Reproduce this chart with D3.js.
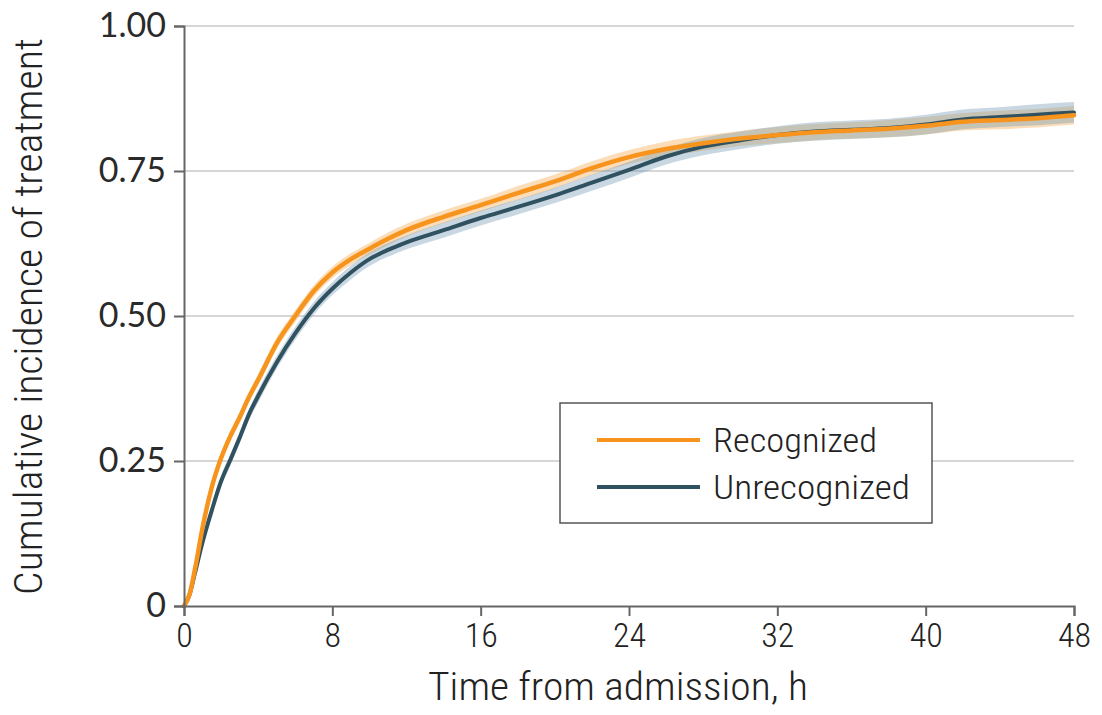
<!DOCTYPE html>
<html>
<head>
<meta charset="utf-8">
<script src="https://cdn.jsdelivr.net/npm/d3@7"></script>
<style>
  html, body { margin: 0; padding: 0; background: #fff; }
  svg { display: block; }
</style>
</head>
<body>
<svg id="chart" width="1102" height="715"></svg>
<script>
// ---- data ----
const times = [0, 0.3, 0.6, 1, 1.5, 2, 2.5, 3, 3.5, 4, 5, 6, 7, 8, 9, 10, 11, 12, 14, 16, 18, 20, 22, 24, 26, 28, 30, 32, 34, 36, 38, 40, 42, 44, 46, 48];
const recognized = [0, 0.02, 0.065, 0.135, 0.205, 0.255, 0.293, 0.325, 0.36, 0.39, 0.453, 0.50, 0.543, 0.575, 0.598, 0.616, 0.633, 0.648, 0.671, 0.691, 0.712, 0.732, 0.755, 0.774, 0.788, 0.798, 0.806, 0.812, 0.817, 0.820, 0.823, 0.828, 0.835, 0.838, 0.841, 0.846];
const unrecognized = [0, 0.02, 0.058, 0.11, 0.165, 0.215, 0.252, 0.29, 0.33, 0.362, 0.42, 0.47, 0.513, 0.547, 0.575, 0.598, 0.614, 0.627, 0.648, 0.669, 0.688, 0.708, 0.730, 0.752, 0.775, 0.792, 0.803, 0.812, 0.818, 0.821, 0.824, 0.830, 0.839, 0.843, 0.847, 0.851];
// half-width of the 95% CI bands
const recognizedCI = [0, 0.004, 0.006, 0.008, 0.009, 0.009, 0.009, 0.009, 0.009, 0.01, 0.01, 0.01, 0.01, 0.01, 0.01, 0.01, 0.011, 0.011, 0.011, 0.011, 0.012, 0.012, 0.012, 0.012, 0.013, 0.013, 0.013, 0.014, 0.014, 0.014, 0.015, 0.015, 0.015, 0.016, 0.016, 0.016];
const unrecognizedCI = [0, 0.004, 0.006, 0.009, 0.01, 0.01, 0.01, 0.01, 0.01, 0.011, 0.011, 0.011, 0.011, 0.011, 0.012, 0.012, 0.012, 0.012, 0.013, 0.013, 0.013, 0.013, 0.014, 0.014, 0.014, 0.015, 0.015, 0.015, 0.016, 0.016, 0.016, 0.017, 0.017, 0.017, 0.018, 0.018];
const xTicks = [0, 8, 16, 24, 32, 40, 48];
const yTicks = [0, 0.25, 0.5, 0.75, 1.0];
const yTickLabels = ["0", "0.25", "0.50", "0.75", "1.00"];
const seriesNames = ["Recognized", "Unrecognized"];
const seriesColors = ["#f7941d", "#2f5160"];
const bandColors = ["rgba(245,165,70,0.38)", "rgba(110,150,178,0.38)"];

// ---- layout ----
const svg = d3.select("#chart");
const mLeft = 184, mRight = 1074, mTop = 26, mBottom = 606;
const x = d3.scaleLinear().domain([0, 48]).range([mLeft, mRight]);
const y = d3.scaleLinear().domain([0, 1]).range([mBottom, mTop]);
const narrow = "'Roboto Condensed', 'Liberation Sans Narrow', 'DejaVu Sans Condensed', sans-serif";

// gridlines
svg.append("g").selectAll("line").data(yTicks.filter(d => d > 0)).join("line")
  .attr("x1", mLeft).attr("x2", mRight)
  .attr("y1", d => y(d)).attr("y2", d => y(d))
  .attr("stroke", "#c9c9c9").attr("stroke-width", 1.5);

// series
const series = [
  { name: seriesNames[0], values: recognized, ci: recognizedCI, color: seriesColors[0], band: bandColors[0] },
  { name: seriesNames[1], values: unrecognized, ci: unrecognizedCI, color: seriesColors[1], band: bandColors[1] }
];
series.forEach(s => {
  s.points = times.map((t, i) => ({ t, v: s.values[i], lo: s.values[i] - s.ci[i], hi: s.values[i] + s.ci[i] }));
});

const area = d3.area().x(d => x(d.t)).y0(d => y(d.lo)).y1(d => y(d.hi)).curve(d3.curveMonotoneX);
const line = d3.line().x(d => x(d.t)).y(d => y(d.v)).curve(d3.curveMonotoneX);

const gBands = svg.append("g");
series.forEach(s => {
  gBands.append("path").attr("d", area(s.points)).attr("fill", s.band);
});
const gLines = svg.append("g");
[series[1], series[0]].forEach(s => {
  gLines.append("path").attr("d", line(s.points))
    .attr("fill", "none").attr("stroke", s.color)
    .attr("stroke-width", s === series[0] ? 4.5 : 4)
    .attr("stroke-linejoin", "round").attr("stroke-linecap", "round");
});

// axes
const axisColor = "#666";
const yAxis = d3.axisLeft(y).tickValues(yTicks).tickFormat((d, i) => yTickLabels[i]).tickSize(10).tickPadding(8);
const gy = svg.append("g").attr("transform", `translate(${mLeft},0)`).call(yAxis);
gy.select(".domain").attr("stroke", axisColor).attr("stroke-width", 2);
gy.selectAll(".tick line").attr("stroke", axisColor).attr("stroke-width", 2);
gy.selectAll(".tick text").attr("font-family", "Lato, 'DejaVu Sans', sans-serif")
  .attr("font-size", 34).attr("fill", "#2a2a2a");

const xAxis = d3.axisBottom(x).tickValues(xTicks).tickSize(10).tickPadding(8);
const gx = svg.append("g").attr("transform", `translate(0,${mBottom})`).call(xAxis);
gx.select(".domain").attr("stroke", axisColor).attr("stroke-width", 2);
gx.selectAll(".tick line").attr("stroke", axisColor).attr("stroke-width", 2);
gx.selectAll(".tick text").attr("font-family", narrow).attr("font-weight", 300)
  .attr("font-size", 34).attr("fill", "#222").attr("dy", "0.68em");

// axis titles
svg.append("text").attr("x", 428).attr("y", 700)
  .attr("font-family", narrow).attr("font-weight", 300).attr("font-size", 38).attr("fill", "#222")
  .attr("textLength", 380).attr("lengthAdjust", "spacingAndGlyphs")
  .text("Time from admission, h");
svg.append("text").attr("transform", `translate(42,595) rotate(-90)`)
  .attr("font-family", narrow).attr("font-weight", 300).attr("font-size", 38).attr("fill", "#222")
  .attr("textLength", 557).attr("lengthAdjust", "spacingAndGlyphs")
  .text("Cumulative incidence of treatment");

// legend
const lg = svg.append("g");
lg.append("rect").attr("x", 560).attr("y", 403).attr("width", 372).attr("height", 120)
  .attr("fill", "#fff").attr("stroke", "#555").attr("stroke-width", 1.5);
const legendWidths = [164, 197];
series.forEach((s, i) => {
  const ly = 440 + i * 47;
  lg.append("line").attr("x1", 597).attr("x2", 700).attr("y1", ly).attr("y2", ly)
    .attr("stroke", s.color).attr("stroke-width", 4);
  lg.append("text").attr("x", 713).attr("y", ly + 12)
    .attr("font-family", narrow).attr("font-weight", 300).attr("font-size", 34).attr("fill", "#222")
    .attr("textLength", legendWidths[i]).attr("lengthAdjust", "spacingAndGlyphs")
    .text(s.name);
});
</script>
</body>
</html>
